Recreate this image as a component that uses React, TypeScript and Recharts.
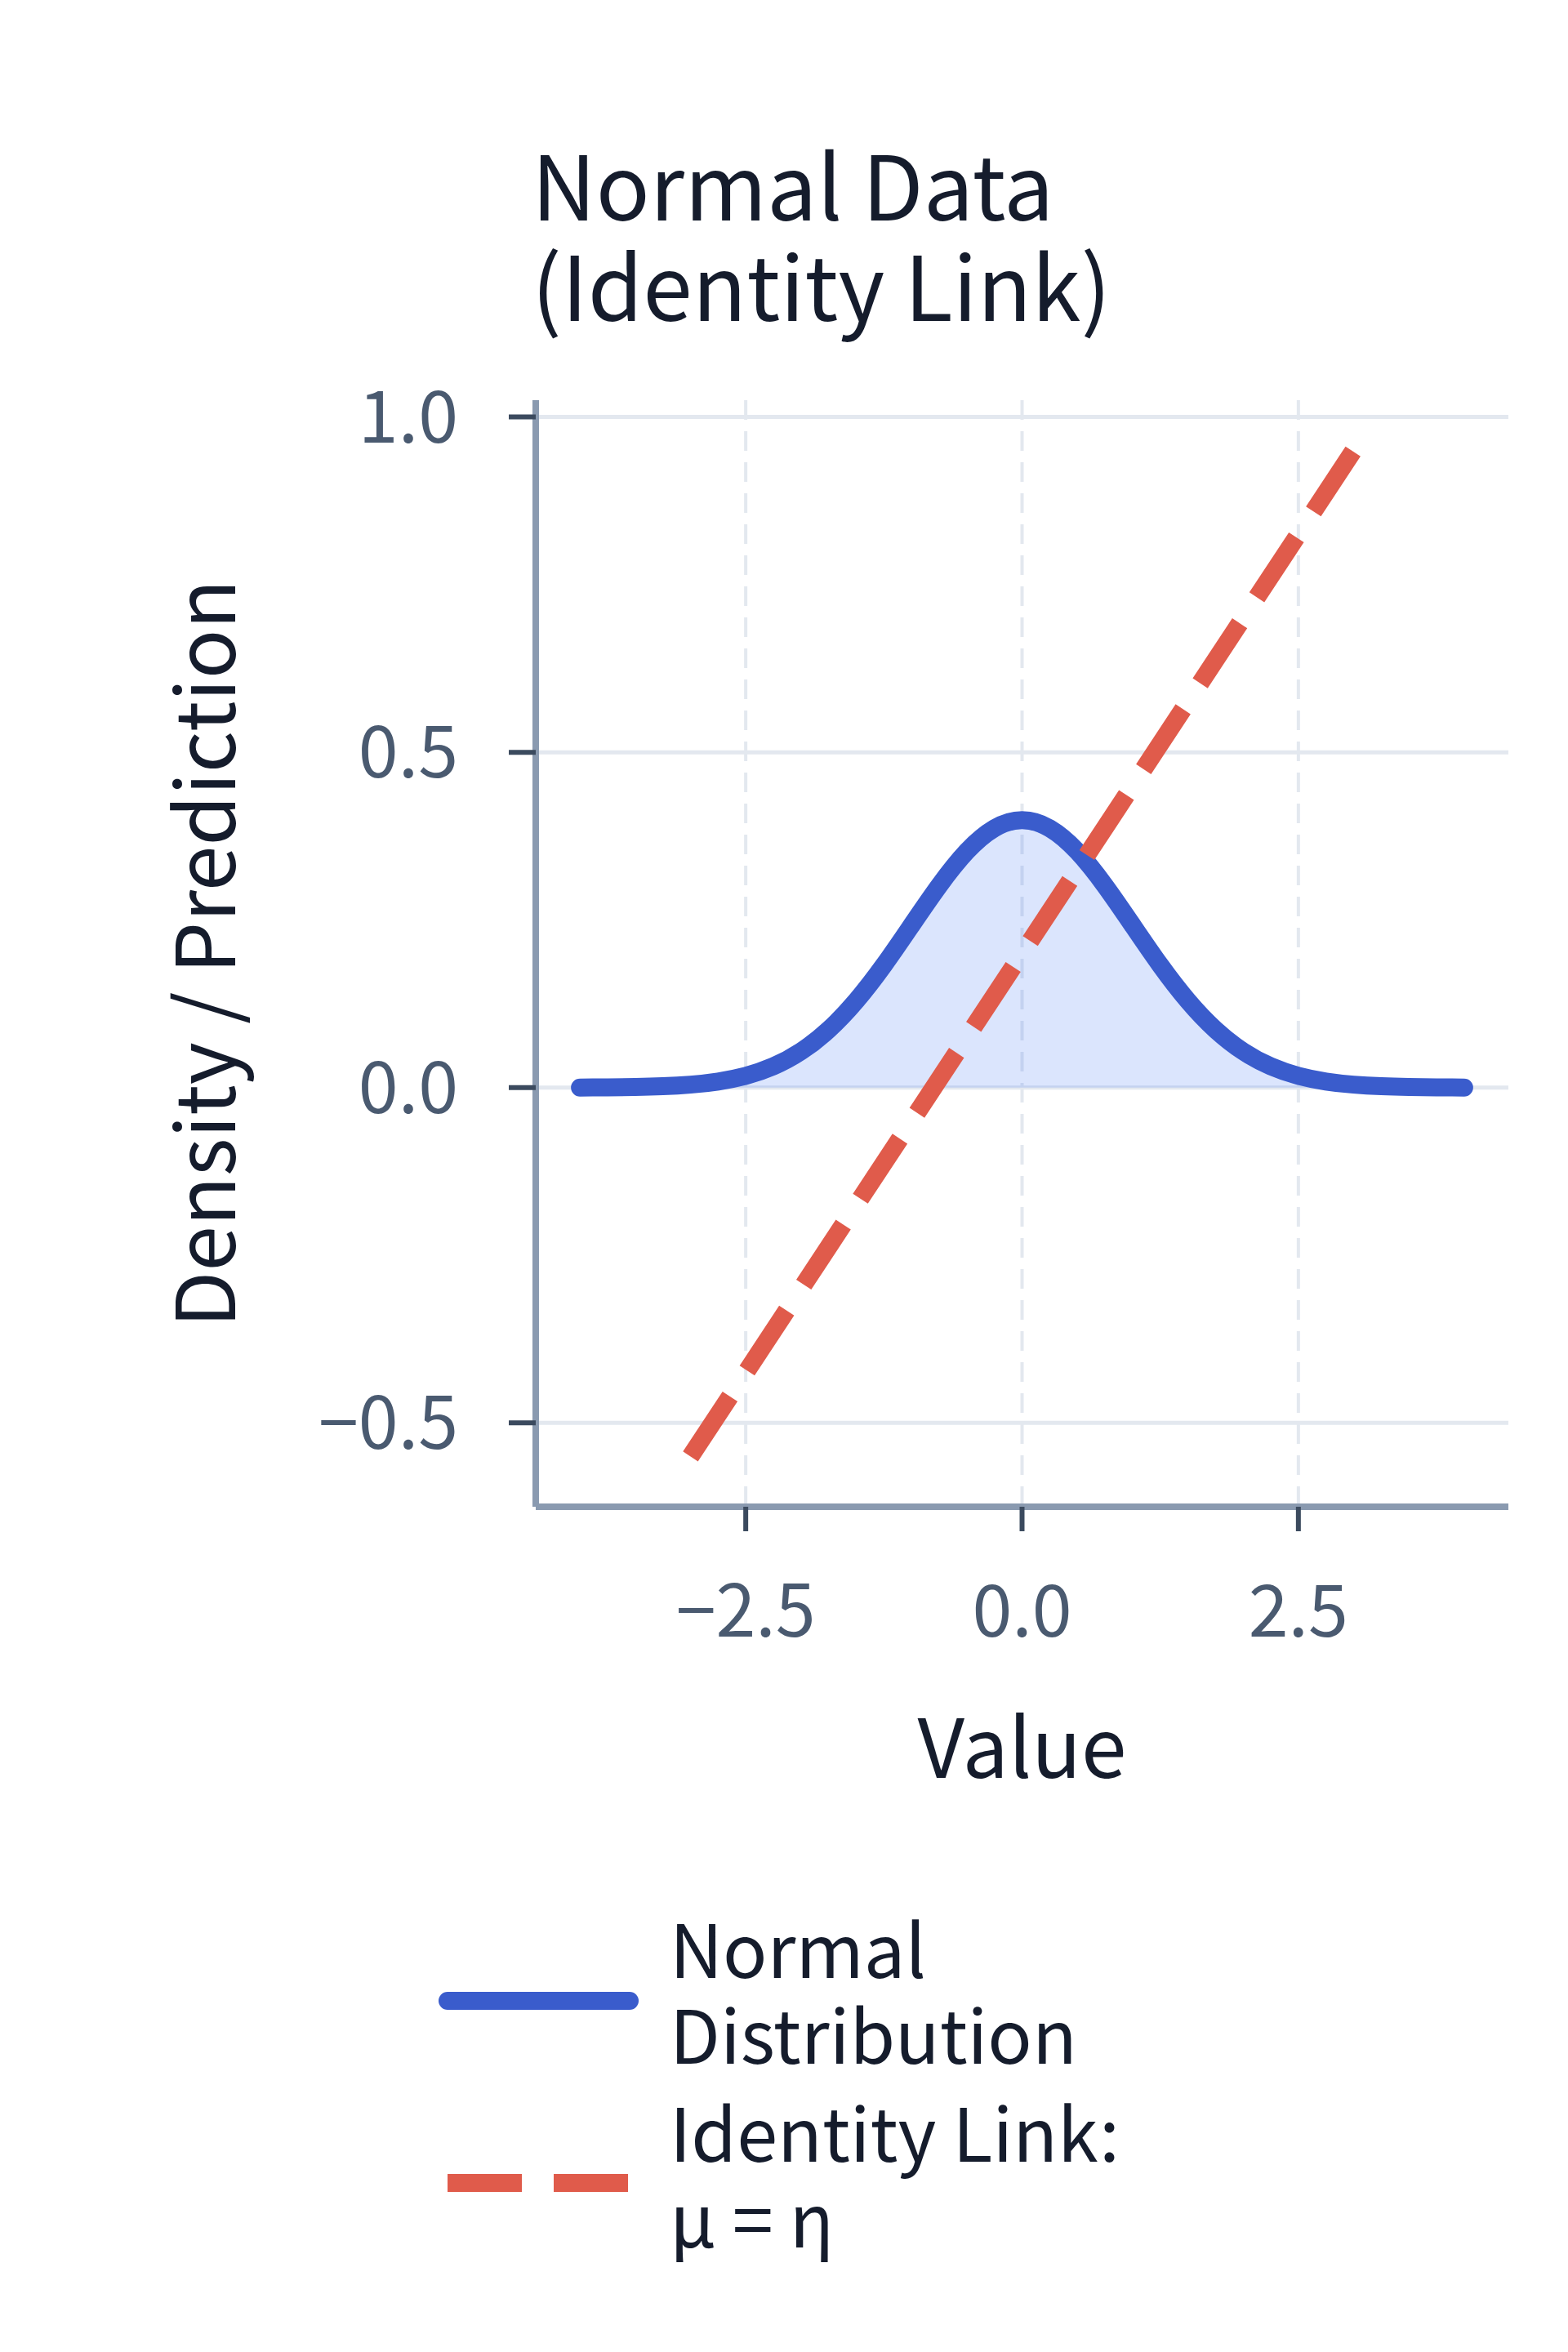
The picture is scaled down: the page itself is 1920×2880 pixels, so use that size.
import {
  Area,
  CartesianGrid,
  ComposedChart,
  Legend,
  Line,
  XAxis,
  YAxis,
} from "recharts";

// normal density curve
const densityX = [
  -4, -3.75, -3.5, -3.25, -3, -2.75, -2.5, -2.25, -2, -1.75, -1.5, -1.25, -1,
  -0.75, -0.5, -0.25, 0, 0.25, 0.5, 0.75, 1, 1.25, 1.5, 1.75, 2, 2.25, 2.5,
  2.75, 3, 3.25, 3.5, 3.75, 4,
];
const densityY = [
  0.0001, 0.0004, 0.0009, 0.002, 0.0044, 0.0091, 0.0175, 0.0317, 0.054, 0.0863,
  0.1295, 0.1826, 0.242, 0.3011, 0.3521, 0.3867, 0.3989, 0.3867, 0.3521,
  0.3011, 0.242, 0.1826, 0.1295, 0.0863, 0.054, 0.0317, 0.0175, 0.0091, 0.0044,
  0.002, 0.0009, 0.0004, 0.0001,
];

// identity link line (two end points)
const linkX = [-3, 3];
const linkY = [-0.55, 0.95];

const xTicks = [-2.5, 0, 2.5];
const yTicks = [-0.5, 0, 0.5, 1.0];

const titleLines = ["Normal Data", "(Identity Link)"];
const xLabel = "Value";
const yLabel = "Density / Prediction";
const normalLabel = ["Normal", "Distribution"];
const linkLabel = ["Identity Link:", "μ = η"];

const densityData = densityX.map((x, i) => ({ x, density: densityY[i] }));
const linkData = linkX.map((x, i) => ({ x, link: linkY[i] }));

const FONT = "'Noto Sans CJK KR', 'Noto Sans', sans-serif";
const BLUE = "#3a5ccc";
const FILL = "#4a7bf7";
const RED = "#e05b4b";
const TEXT = "#151c2c";
const TICK = "#4a5a70";
const AXIS = "#8a9ab0";
const TICK_LINE = "#3b4a5e";
const GRID = "#e3e8ef";

const fmt = (v: number) => v.toFixed(1).replace("-", "\u2212");

// several lines in one <text>
function Lines({ x, y, step, lines }: any) {
  return (
    <text x={x} y={y}>
      {lines.map((s: string, i: number) => (
        <tspan key={s} x={x} dy={i === 0 ? 0 : step}>
          {s}
        </tspan>
      ))}
    </text>
  );
}

function YLabel({ viewBox }: any) {
  const x = viewBox.x + 32;
  const y = viewBox.y + viewBox.height / 2;
  return (
    <text
      x={x}
      y={y}
      transform={`rotate(-90, ${x}, ${y})`}
      textAnchor="middle"
      fontSize={100}
      fontFamily={FONT}
      fill={TEXT}
    >
      {yLabel}
    </text>
  );
}

function XLabel({ viewBox }: any) {
  return (
    <text
      x={viewBox.x + viewBox.width / 2}
      y={viewBox.y + 332}
      textAnchor="middle"
      fontSize={100}
      fontFamily={FONT}
      fill={TEXT}
    >
      {xLabel}
    </text>
  );
}

function LegendBox() {
  return (
    <svg width={1000} height={520} style={{ display: "block" }}>
      <line
        x1={40}
        x2={263}
        y1={152}
        y2={152}
        stroke={BLUE}
        strokeWidth={22}
        strokeLinecap="round"
      />
      <line
        x1={40}
        x2={261}
        y1={375}
        y2={375}
        stroke={RED}
        strokeWidth={22}
        strokeDasharray="91 39"
      />
      <g fontSize={90} fontFamily={FONT} fill={TEXT}>
        <Lines x={312} y={124} step={105} lines={normalLabel} />
        <Lines x={312} y={349} step={105} lines={linkLabel} />
      </g>
    </svg>
  );
}

export default function App() {
  return (
    <div style={{ position: "relative", width: 1904, height: 2872 }}>
      <ComposedChart
        width={1904}
        height={2872}
        margin={{ top: 482, right: 65, bottom: 735, left: 248 }}
        style={{ fontFamily: FONT }}
      >
        <CartesianGrid
          vertical={false}
          syncWithTicks
          stroke={GRID}
          strokeWidth={5}
        />
        <CartesianGrid
          horizontal={false}
          syncWithTicks
          stroke={GRID}
          strokeWidth={4}
          strokeDasharray="24 14"
        />
        <XAxis
          type="number"
          dataKey="x"
          domain={[-4.4, 4.4]}
          ticks={xTicks}
          allowDataOverflow
          height={300}
          tickFormatter={fmt}
          tick={{ fontSize: 88, fill: TICK, fontFamily: FONT }}
          tickSize={30}
          tickMargin={67}
          axisLine={{ stroke: AXIS, strokeWidth: 8 }}
          tickLine={{ stroke: TICK_LINE, strokeWidth: 6 }}
          label={{ content: XLabel }}
        />
        <YAxis
          type="number"
          domain={[-0.625, 1.025]}
          ticks={yTicks}
          allowDataOverflow
          width={400}
          tickFormatter={fmt}
          tick={{ fontSize: 88, fill: TICK, fontFamily: FONT }}
          tickSize={33}
          tickMargin={62}
          axisLine={{ stroke: AXIS, strokeWidth: 8 }}
          tickLine={{ stroke: TICK_LINE, strokeWidth: 6 }}
          label={{ content: YLabel }}
        />
        <Area
          data={densityData}
          dataKey="density"
          type="natural"
          baseValue={0}
          stroke={BLUE}
          strokeWidth={22}
          strokeLinecap="round"
          strokeLinejoin="round"
          fill={FILL}
          fillOpacity={0.2}
          dot={false}
          activeDot={false}
          isAnimationActive={false}
        />
        <Line
          data={linkData}
          dataKey="link"
          type="linear"
          stroke={RED}
          strokeWidth={22}
          strokeDasharray="88 38"
          dot={false}
          activeDot={false}
          isAnimationActive={false}
        />
        <Legend
          layout="horizontal"
          verticalAlign="middle"
          align="center"
          wrapperStyle={{ top: 2290, left: 500, width: 1000, height: 520 }}
          content={() => <LegendBox />}
        />
      </ComposedChart>
      <svg
        width={1904}
        height={480}
        style={{ position: "absolute", top: 0, left: 0, pointerEvents: "none" }}
      >
        <g fontSize={109} fontFamily={FONT} fill={TEXT}>
          <Lines x={643} y={262} step={123} lines={titleLines} />
        </g>
      </svg>
    </div>
  );
}
